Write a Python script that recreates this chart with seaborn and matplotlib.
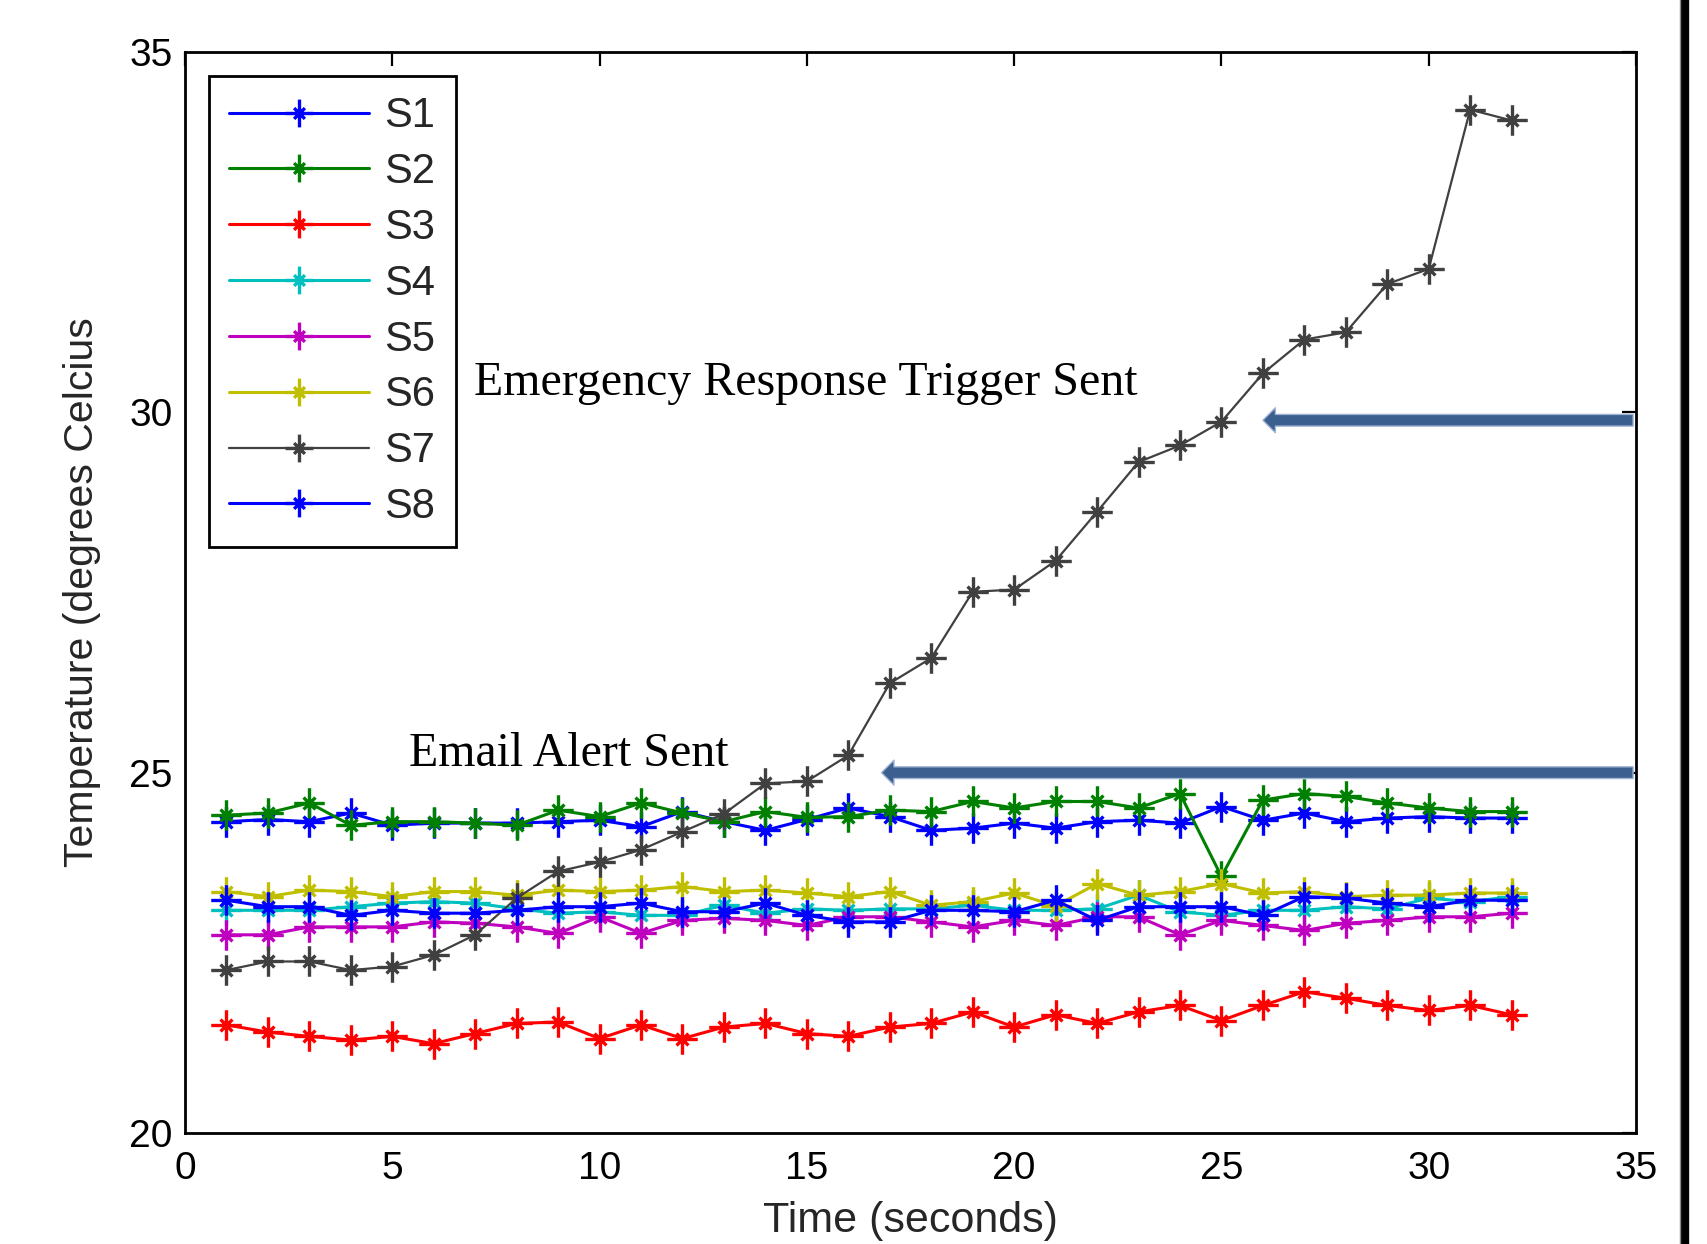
import numpy as np
import pandas as pd
import matplotlib
matplotlib.use("Agg")
import matplotlib.pyplot as plt
import seaborn as sns
from matplotlib.path import Path
from matplotlib.lines import Line2D

# ---------------- data ----------------
time = list(range(1, 33))

s1 = [24.32, 24.35, 24.32, 24.44, 24.27, 24.30, 24.30, 24.30, 24.32, 24.34, 24.25,
      24.46, 24.32, 24.20, 24.35, 24.51, 24.39, 24.20, 24.23, 24.30, 24.23, 24.32,
      24.34, 24.30, 24.53, 24.34, 24.44, 24.32, 24.37, 24.39, 24.37, 24.37]
s2 = [24.41, 24.44, 24.58, 24.27, 24.32, 24.32, 24.30, 24.27, 24.48, 24.39, 24.58,
      24.44, 24.32, 24.46, 24.38, 24.39, 24.48, 24.46, 24.60, 24.51, 24.60, 24.60,
      24.51, 24.71, 23.56, 24.62, 24.71, 24.67, 24.58, 24.51, 24.46, 24.46]
s3 = [21.50, 21.40, 21.34, 21.29, 21.34, 21.24, 21.38, 21.52, 21.54, 21.31, 21.50,
      21.31, 21.47, 21.52, 21.38, 21.34, 21.47, 21.52, 21.68, 21.47, 21.64, 21.52,
      21.68, 21.77, 21.56, 21.77, 21.96, 21.87, 21.77, 21.70, 21.77, 21.64]
s4 = [23.09, 23.09, 23.09, 23.14, 23.19, 23.21, 23.19, 23.11, 23.05, 23.07, 23.02,
      23.02, 23.16, 23.05, 23.11, 23.09, 23.11, 23.11, 23.16, 23.09, 23.09, 23.11,
      23.30, 23.07, 23.02, 23.09, 23.09, 23.14, 23.11, 23.26, 23.21, 23.28]
s5 = [22.75, 22.75, 22.86, 22.86, 22.86, 22.93, 22.91, 22.86, 22.77, 23.00, 22.77,
      22.95, 22.98, 22.95, 22.88, 23.00, 23.00, 22.93, 22.86, 22.95, 22.88, 23.00,
      23.00, 22.75, 22.95, 22.88, 22.81, 22.91, 22.95, 23.00, 23.00, 23.05]
s6 = [23.35, 23.28, 23.37, 23.35, 23.28, 23.35, 23.35, 23.30, 23.37, 23.35, 23.37,
      23.42, 23.35, 23.37, 23.33, 23.28, 23.35, 23.16, 23.21, 23.33, 23.15, 23.46,
      23.30, 23.35, 23.46, 23.33, 23.35, 23.28, 23.30, 23.30, 23.33, 23.33]
s7 = [22.26, 22.38, 22.38, 22.26, 22.31, 22.47, 22.75, 23.26, 23.63, 23.76, 23.93,
      24.18, 24.43, 24.85, 24.88, 25.24, 26.24, 26.59, 27.51, 27.54, 27.94, 28.62,
      29.31, 29.54, 29.87, 30.54, 31.01, 31.11, 31.78, 31.99, 34.20, 34.05]
s8 = [23.23, 23.14, 23.14, 23.02, 23.09, 23.05, 23.05, 23.09, 23.14, 23.14, 23.19,
      23.07, 23.07, 23.19, 23.02, 22.93, 22.93, 23.09, 23.09, 23.07, 23.23, 22.95,
      23.14, 23.14, 23.14, 23.02, 23.28, 23.26, 23.19, 23.14, 23.23, 23.23]

series_names = ["S1", "S2", "S3", "S4", "S5", "S6", "S7", "S8"]
series_values = [s1, s2, s3, s4, s5, s6, s7, s8]
colors = ["#0000ff", "#008000", "#ff0000", "#00bfbf", "#bf00bf", "#bfbf00", "#404040", "#0000ff"]

x_ticks = [0, 5, 10, 15, 20, 25, 30, 35]
y_ticks = [20, 25, 30, 35]

email_label = "Email Alert Sent"
email_level = 25.0
email_tip = 16.8
emerg_label = "Emergency Response Trigger Sent"
emerg_level = 29.89
emerg_tip = 26.0

# ---------------- style ----------------
sns.set_style("white")
plt.rcParams["font.family"] = ["Liberation Sans", "DejaVu Sans"]

W, H = 1708, 1244
fig = plt.figure(figsize=(W / 100, H / 100), dpi=100)
ax = fig.add_axes([185 / W, 1 - 1133 / H, (1636 - 185) / W, (1133 - 52) / H])

# MATLAB-like asterisk marker
verts = []
codes = []
d = 0.55 / np.sqrt(2)
for (a, b) in [((0, -1), (0, 1)), ((-1, 0), (1, 0)), ((-d, -d), (d, d)), ((-d, d), (d, -d))]:
    verts += [a, b]
    codes += [Path.MOVETO, Path.LINETO]
star = Path(verts, codes)

df = pd.DataFrame({"Time": np.tile(time, len(series_names)),
                   "Temp": np.concatenate(series_values),
                   "Sensor": np.repeat(series_names, len(time))})

for name, col in zip(series_names, colors):
    sub = df[df["Sensor"] == name]
    lw = 1.6 if name == "S7" else 2.2
    sns.lineplot(data=sub, x="Time", y="Temp", ax=ax, color=col, label=name,
                 marker=star, markersize=22, markeredgewidth=2.4,
                 markeredgecolor=col, markerfacecolor="none", linewidth=lw,
                 estimator=None, sort=False)

ax.set_xlim(0, 35)
ax.set_ylim(20, 35)
ax.set_xticks(x_ticks)
ax.set_yticks(y_ticks)
ax.tick_params(direction="in", length=10, width=1.6, top=True, right=True,
               labelsize=28, colors="black")
ax.tick_params(axis="x", pad=13)
ax.tick_params(axis="y", pad=9)
for sp in ax.spines.values():
    sp.set_visible(True)
    sp.set_color("black")
    sp.set_linewidth(2.0)

ax.set_xlabel("Time (seconds)", fontsize=31, labelpad=10)
ax.set_ylabel("Temperature (degrees Celcius", fontsize=29.5, labelpad=20)

leg = ax.legend(loc="upper left", fontsize=30, handlelength=3.35, handletextpad=0.38,
                labelspacing=0.38, borderaxespad=0.58, borderpad=0.48,
                fancybox=False, framealpha=1, edgecolor="black")
leg.get_frame().set_linewidth(2.0)
for lh in leg.get_lines():
    lh.set_markersize(20)

# arrows and annotations
for lvl, tip in [(email_level, email_tip), (emerg_level, emerg_tip)]:
    ax.annotate("", xy=(tip, lvl), xytext=(34.93, lvl), xycoords="data",
                arrowprops=dict(arrowstyle="simple,head_length=0.45,head_width=0.9,tail_width=0.42",
                                mutation_scale=20, facecolor="#3b5f8e", edgecolor="#9fb3d3",
                                linewidth=1.0, shrinkA=0, shrinkB=0),
                annotation_clip=False)

ax.text(5.41, 25.26, email_label, family="Liberation Serif", fontsize=34.5,
        ha="left", va="center", color="black")
ax.text(6.97, 30.41, emerg_label, family="Liberation Serif", fontsize=34.5,
        ha="left", va="center", color="black")

# right page border bar
fig.add_artist(Line2D([1685 / W, 1685 / W], [0, 1], color="black", linewidth=6,
                      transform=fig.transFigure))
fig.add_artist(Line2D([1680 / W, 1680 / W], [0, 1], color="#888888", linewidth=1,
                      transform=fig.transFigure))

fig.savefig("out.png", dpi=100, facecolor="white")
